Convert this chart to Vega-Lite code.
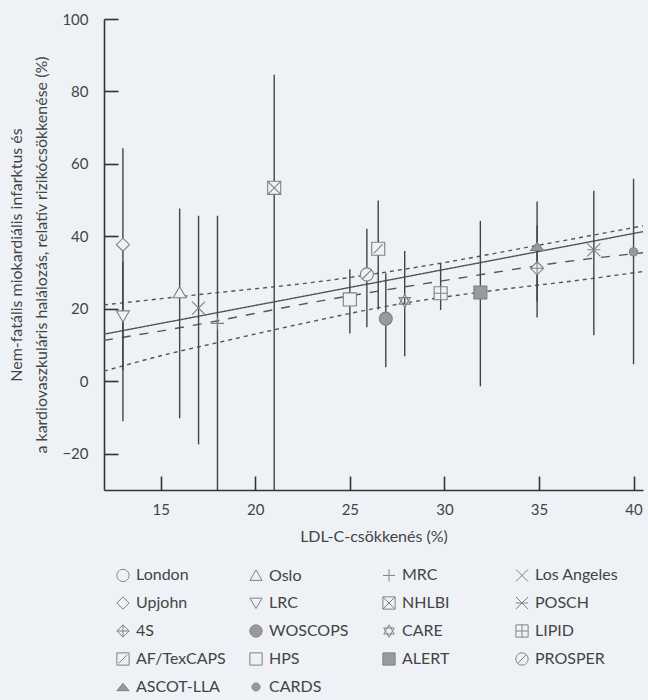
{
  "$schema": "https://vega.github.io/schema/vega-lite/v6.json",
  "width": 539,
  "height": 471,
  "autosize": {"type": "none"},
  "padding": {"left": 104, "top": 19, "right": 5, "bottom": 210},
  "background": "#eef2f7",
  "config": {
    "view": {"stroke": null},
    "font": "Lato",
    "axis": {
      "grid": false,
      "domainColor": "#333333",
      "domainWidth": 1.6,
      "tickColor": "#333333",
      "tickWidth": 1.6,
      "tickSize": -14,
      "labelFont": "Lato",
      "labelFontSize": 15,
      "labelColor": "#444444",
      "titleFont": "Lato",
      "titleFontSize": 16,
      "titleFontWeight": "normal",
      "titleColor": "#444444"
    },
    "legend": {
      "labelFont": "Lato",
      "labelFontSize": 16,
      "labelColor": "#444444"
    }
  },
  "datasets": {
    "studies": [
      {"study": "Upjohn", "ldl": 13.0, "rrr": 37.7, "lo": -11, "hi": 64.3},
      {"study": "LRC", "ldl": 13.0, "rrr": 18.0, "lo": 3, "hi": 33},
      {"study": "Oslo", "ldl": 16.0, "rrr": 24.5, "lo": -10.2, "hi": 47.7},
      {"study": "Los Angeles", "ldl": 17.0, "rrr": 20.2, "lo": -17.4, "hi": 45.7},
      {"study": "MRC", "ldl": 18.0, "rrr": 16.0, "lo": -35, "hi": 45.7},
      {"study": "NHLBI", "ldl": 21.0, "rrr": 53.4, "lo": -35, "hi": 84.6},
      {"study": "HPS", "ldl": 25.0, "rrr": 22.6, "lo": 13.2, "hi": 30.9},
      {"study": "PROSPER", "ldl": 25.9, "rrr": 29.5, "lo": 14.9, "hi": 42.1},
      {"study": "AF/TexCAPS", "ldl": 26.5, "rrr": 36.6, "lo": 19.8, "hi": 49.9},
      {"study": "WOSCOPS", "ldl": 26.9, "rrr": 17.3, "lo": 3.9, "hi": 29.8},
      {"study": "CARE", "ldl": 27.9, "rrr": 22.2, "lo": 6.9, "hi": 36.0},
      {"study": "LIPID", "ldl": 29.8, "rrr": 24.3, "lo": 19.7, "hi": 32.6},
      {"study": "ALERT", "ldl": 31.9, "rrr": 24.5, "lo": -1.4, "hi": 44.3},
      {"study": "4S", "ldl": 34.9, "rrr": 31.2, "lo": 17.6, "hi": 43.0},
      {"study": "ASCOT-LLA", "ldl": 34.9, "rrr": 37.2, "lo": 22.0, "hi": 49.6},
      {"study": "POSCH", "ldl": 37.9, "rrr": 36.3, "lo": 12.7, "hi": 52.6},
      {"study": "CARDS", "ldl": 40.0, "rrr": 35.7, "lo": 4.7, "hi": 55.9}
    ],
    "lines": [
      {"kind": "fit", "x": 12.0, "y": 13.0},
      {"kind": "fit", "x": 40.5, "y": 41.3},
      {"kind": "wfit", "x": 12.0, "y": 11.3},
      {"kind": "wfit", "x": 17.3, "y": 16.0},
      {"kind": "wfit", "x": 22.2, "y": 21.0},
      {"kind": "wfit", "x": 30.7, "y": 28.4},
      {"kind": "wfit", "x": 36.4, "y": 33.0},
      {"kind": "wfit", "x": 40.5, "y": 35.5},
      {"kind": "upper", "x": 12.0, "y": 21.1},
      {"kind": "upper", "x": 17.5, "y": 24.2},
      {"kind": "upper", "x": 23.5, "y": 27.6},
      {"kind": "upper", "x": 29.8, "y": 32.6},
      {"kind": "upper", "x": 34.6, "y": 37.2},
      {"kind": "upper", "x": 40.5, "y": 42.9},
      {"kind": "lower", "x": 12.0, "y": 2.8},
      {"kind": "lower", "x": 15.2, "y": 7.3},
      {"kind": "lower", "x": 18.7, "y": 11.5},
      {"kind": "lower", "x": 22.2, "y": 15.6},
      {"kind": "lower", "x": 27.9, "y": 21.6},
      {"kind": "lower", "x": 31.9, "y": 24.6},
      {"kind": "lower", "x": 37.4, "y": 28.1},
      {"kind": "lower", "x": 40.5, "y": 30.3}
    ]
  },
  "layer": [
    {
      "data": {"name": "lines"},
      "mark": {"type": "line", "clip": true, "strokeWidth": 1.4, "color": "#555555", "interpolate": "monotone"},
      "encoding": {
        "x": {
          "field": "x", "type": "quantitative",
          "scale": {"domain": [12, 40.5], "nice": false, "zero": false},
          "axis": {"values": [15, 20, 25, 30, 35, 40], "title": "LDL-C-csökkenés (%)", "labelPadding": 26, "titlePadding": 11}
        },
        "y": {
          "field": "y", "type": "quantitative",
          "scale": {"domain": [-30, 100], "nice": false, "zero": false},
          "axis": {
            "values": [-20, 0, 20, 40, 60, 80, 100],
            "title": ["Nem-fatális miokardiális infarktus és", "a kardiovaszkuláris halálozás, relatív rizikócsökkenése (%)"],
            "titleLineHeight": 25,
            "labelPadding": 30,
            "titlePadding": 12
          }
        },
        "detail": {"field": "kind", "type": "nominal"},
        "strokeDash": {
          "field": "kind", "type": "nominal", "legend": null,
          "scale": {"domain": ["fit", "wfit", "upper", "lower"], "range": [[1, 0], [9, 9], [4, 4], [4, 4]]}
        },
        "order": {"field": "x", "type": "quantitative"}
      }
    },
    {
      "data": {"name": "studies"},
      "mark": {"type": "rule", "clip": true, "color": "#444444", "strokeWidth": 1.4},
      "encoding": {
        "x": {"field": "ldl", "type": "quantitative"},
        "y": {"field": "lo", "type": "quantitative"},
        "y2": {"field": "hi"}
      }
    },
    {
      "data": {"name": "studies"},
      "mark": {"type": "point", "filled": true, "stroke": "#808080", "strokeWidth": 1.1, "opacity": 1, "size": 170},
      "encoding": {
        "x": {"field": "ldl", "type": "quantitative"},
        "y": {"field": "rrr", "type": "quantitative"},
        "shape": {
          "field": "study", "type": "nominal",
          "scale": {
            "domain": ["London", "Upjohn", "4S", "AF/TexCAPS", "PROSPER", "Oslo", "LRC", "WOSCOPS", "HPS", "ASCOT-LLA", "MRC", "NHLBI", "CARE", "ALERT", "CARDS", "Los Angeles", "POSCH", "LIPID"],
            "range": [
              "M-1,0A1,1 0 1,0 1,0A1,1 0 1,0 -1,0Z",
              "M0,-1L1,0L0,1L-1,0Z",
              "M0,-1L1,0L0,1L-1,0Z M0,-1V1 M-1,0H1",
              "M-1,-1H1V1H-1Z M-0.7,0.7L0.7,-0.7",
              "M-1,0A1,1 0 1,0 1,0A1,1 0 1,0 -1,0Z M-0.7,0.7L0.7,-0.7",
              "M0,-0.9L1,0.8H-1Z",
              "M-1,-0.8H1L0,0.9Z",
              "M-1,0A1,1 0 1,0 1,0A1,1 0 1,0 -1,0Z",
              "M-1,-1H1V1H-1Z",
              "M0,-0.6L1,0.6H-1Z",
              "M-1,0H1M0,-1V1",
              "M-1,-1H1V1H-1Z M-1,-1L1,1 M1,-1L-1,1",
              "M0,-1L0.87,0.5H-0.87Z M0,1L0.87,-0.5H-0.87Z",
              "M-1,-1H1V1H-1Z",
              "M-0.65,0A0.65,0.65 0 1,0 0.65,0A0.65,0.65 0 1,0 -0.65,0Z",
              "M-1,-1L1,1M1,-1L-1,1",
              "M-1,-1L1,1M1,-1L-1,1M-1,0H1",
              "M-1,-1H1V1H-1Z M0,-1V1 M-1,0H1"
            ]
          },
          "legend": {
            "title": null,
            "orient": "none",
            "legendX": 11,
            "legendY": 548,
            "columns": 4,
            "gridAlign": "all",
            "columnPadding": 21,
            "rowPadding": 10,
            "symbolSize": 150,
            "symbolStrokeWidth": 1,
            "labelOffset": 5,
            "labelFontSize": 16,
            "labelColor": "#444444"
          }
        },
        "fill": {
          "field": "study", "type": "nominal",
          "scale": {
            "domain": ["London", "Upjohn", "4S", "AF/TexCAPS", "PROSPER", "Oslo", "LRC", "WOSCOPS", "HPS", "ASCOT-LLA", "MRC", "NHLBI", "CARE", "ALERT", "CARDS", "Los Angeles", "POSCH", "LIPID"],
            "range": ["#eef2f7", "#eef2f7", "#eef2f7", "#eef2f7", "#eef2f7", "#eef2f7", "#eef2f7", "#999999", "#eef2f7", "#999999", "#eef2f7", "#eef2f7", "#eef2f7", "#999999", "#999999", "#eef2f7", "#eef2f7", "#eef2f7"]
          }
        }
      }
    }
  ]
}
